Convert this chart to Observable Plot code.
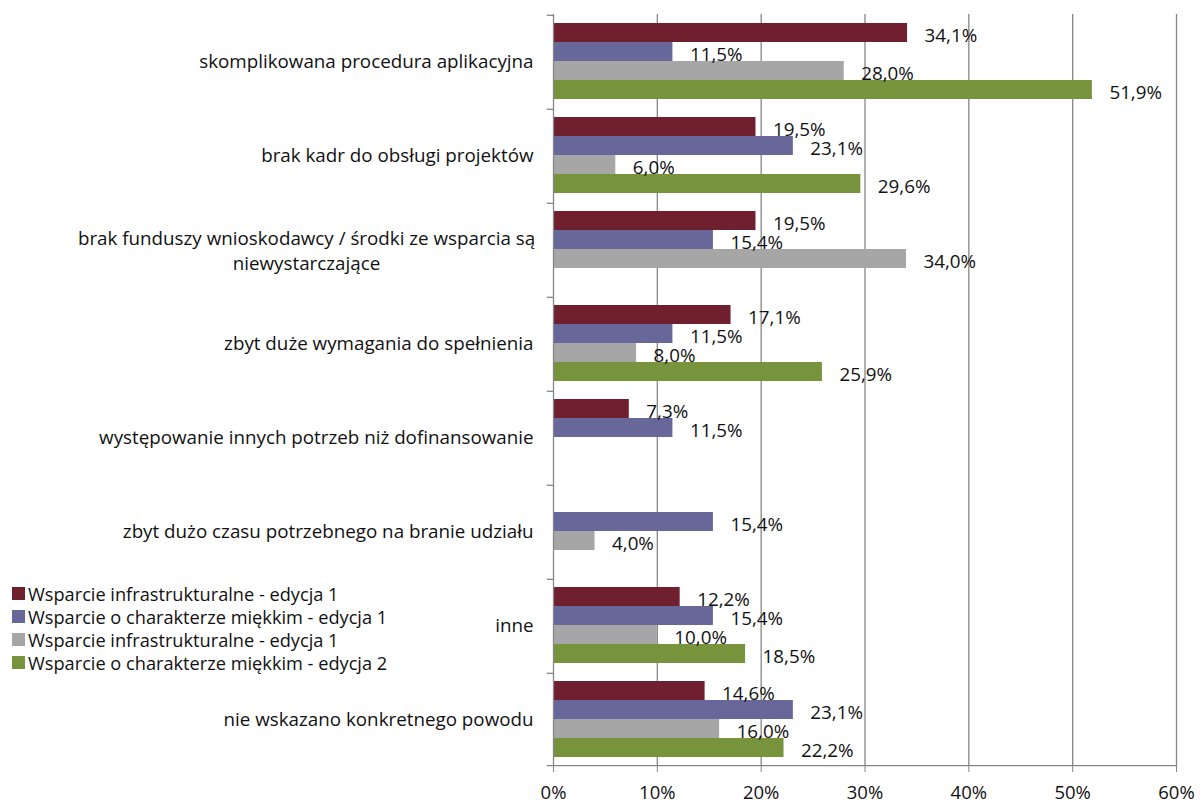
<!DOCTYPE html>
<html><head><meta charset="utf-8">
<script src="https://cdn.jsdelivr.net/npm/d3@7"></script>
<script src="https://cdn.jsdelivr.net/npm/@observablehq/plot@0.6"></script>
<style>
body{margin:0;background:#fff;font-family:"Open Sans",sans-serif}
#wrap{position:relative;width:1204px;height:807px}
#legend{position:absolute;left:12px;top:582px;font-size:18.2px;color:#111}
.row{display:flex;align-items:center;height:23px;white-space:nowrap;line-height:20px}
.sw{width:13px;height:13px;margin-right:3px;flex:none}
</style></head><body><div id="wrap"><div id="chart"></div><div id="legend"></div></div>
<script>
const categories = [
  "skomplikowana procedura aplikacyjna",
  "brak kadr do obsługi projektów",
  "brak funduszy wnioskodawcy / środki ze wsparcia są\nniewystarczające",
  "zbyt duże wymagania do spełnienia",
  "występowanie innych potrzeb niż dofinansowanie",
  "zbyt dużo czasu potrzebnego na branie udziału",
  "inne",
  "nie wskazano konkretnego powodu"
];
const seriesKeys = ["s1", "s2", "s3", "s4"];
const seriesLabels = [
  "Wsparcie infrastrukturalne - edycja 1",
  "Wsparcie o charakterze miękkim - edycja 1",
  "Wsparcie infrastrukturalne - edycja 1",
  "Wsparcie o charakterze miękkim - edycja 2"
];
const seriesColors = ["#6F1F2E", "#67679A", "#A6A6A6", "#77933C"];
const s1 = [34.1, 19.5, 19.5, 17.1, 7.3, null, 12.2, 14.6];
const s2 = [11.5, 23.1, 15.4, 11.5, 11.5, 15.4, 15.4, 23.1];
const s3 = [28.0, 6.0, 34.0, 8.0, null, 4.0, 10.0, 16.0];
const s4 = [51.9, 29.6, null, 25.9, null, null, 18.5, 22.2];
const xTicks = [0, 10, 20, 30, 40, 50, 60];

const seriesValues = [s1, s2, s3, s4];
const rows = [];
categories.forEach((cat, i) => {
  seriesKeys.forEach((key, j) => {
    const v = seriesValues[j][i];
    if (v != null) rows.push({cat, key, value: v});
  });
});
const fmt = v => v.toFixed(1).replace(".", ",") + "%";
const grey = "#868686";

const chart = Plot.plot({
  width: 1204, height: 807,
  marginLeft: 553, marginRight: 28, marginTop: 12, marginBottom: 40,
  style: {fontFamily: "'Open Sans', sans-serif", fontSize: "18.8px", color: "#111", background: "white"},
  x: {domain: [0, 60], axis: null},
  fy: {domain: categories, padding: 0, axis: null},
  y: {domain: seriesKeys, paddingInner: 0, paddingOuter: 0.4, axis: null},
  color: {domain: seriesKeys, range: seriesColors},
  marks: [
    Plot.ruleX(xTicks.slice(1), {stroke: grey, strokeWidth: 1.3}),
    Plot.barX(rows, {fy: "cat", y: "key", x: "value", fill: "key"}),
    Plot.ruleX([0], {stroke: grey, strokeWidth: 1.3}),
    Plot.ruleY(categories, {fy: d => d, y: () => "s1", x1: () => -0.6, x2: () => 0, dy: -17.7, stroke: grey, strokeWidth: 1.3}),
    Plot.ruleY(categories.slice(-1), {fy: d => d, y: () => "s4", x1: () => -0.6, x2: () => 60, dy: 17.7, stroke: grey, strokeWidth: 1.3}),
    Plot.text(rows, {fy: "cat", y: "key", x: "value", text: d => fmt(d.value), dx: 17, dy: 3, textAnchor: "start", fill: "#111"}),
    Plot.text(categories.filter(c => !c.includes("\n")), {fy: d => d, x: () => 0, text: d => d, textAnchor: "end", dx: -20, fill: "#111"}),
    Plot.text(categories.filter(c => c.includes("\n")), {fy: d => d, x: () => 0, text: d => d, textAnchor: "middle", dx: -247, lineHeight: 1.35, fill: "#111"}),
    Plot.axisX({ticks: xTicks, tickFormat: d => d + "%", tickSize: 6, tickPadding: 13, stroke: grey, fill: "#111", fontSize: 18.5, label: null})
  ]
});
document.getElementById("chart").appendChild(chart);

const legend = document.getElementById("legend");
seriesLabels.forEach((label, i) => {
  const row = document.createElement("div");
  row.className = "row";
  const sw = document.createElement("div");
  sw.className = "sw";
  sw.style.background = seriesColors[i];
  const t = document.createElement("span");
  t.textContent = label;
  row.appendChild(sw);
  row.appendChild(t);
  legend.appendChild(row);
});
</script></body></html>
